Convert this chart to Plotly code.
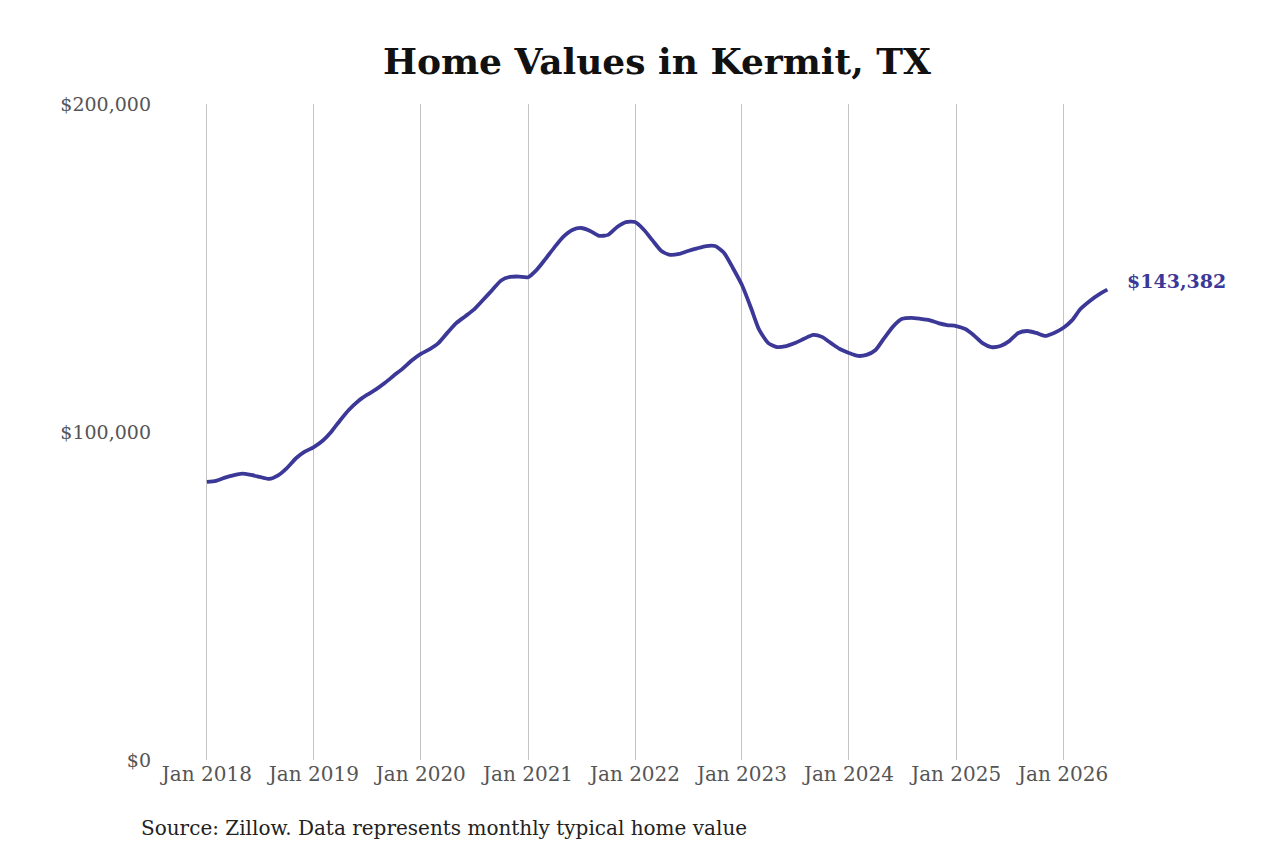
import pandas as pd
import plotly.graph_objects as go

# typical home value, monthly, Jan 2018 .. Jun 2026
home_values = [
    84800, 85100, 86000, 86800, 87300, 86900, 86300, 85700, 86800, 89000, 92000, 94000,
    95400, 97400, 100000, 103600, 106800, 109400, 111300, 113000, 115000, 117200, 119400, 121800,
    123800, 125300, 127100, 130300, 133200, 135300, 137400, 140300, 143300, 146200, 147300, 147400,
    147200, 149600, 152700, 156300, 159500, 161600, 162200, 161300, 159800, 160100, 162500, 164000,
    164000, 161600, 158500, 155200, 154000, 154300, 155200, 156000, 156700, 156700, 154600, 150000,
    144800, 137800, 131100, 127100, 125900, 126200, 127100, 128400, 129600, 129000, 127100, 125300,
    124100, 123200, 123500, 125000, 128700, 132300, 134500, 134800, 134500, 134100, 133200, 132600,
    132300, 131400, 129600, 127100, 125900, 126200, 127700, 130200, 130800, 130200, 129300, 130200,
    131700, 134100, 137500, 139900, 141800, 143382,
]
months = pd.date_range("2018-01-01", periods=len(home_values), freq="MS")

y_ticks = [0, 100000, 200000]
y_labels = ["$0", "$100,000", "$200,000"]

LINE = "#3b3897"
FONT = "DejaVu Serif"

fig = go.Figure()
fig.add_trace(
    go.Scatter(
        x=months,
        y=home_values,
        mode="lines",
        line=dict(color=LINE, width=3.8, shape="spline", smoothing=0.6),
        hoverinfo="x+y",
    )
)

fig.add_annotation(
    x=months[-1],
    y=home_values[-1],
    text=f"<b>${home_values[-1]:,}</b>",
    showarrow=False,
    xanchor="left",
    yanchor="middle",
    xshift=18,
    yshift=9,
    font=dict(family=FONT, size=19, color=LINE),
)

fig.add_annotation(
    text="Source: Zillow. Data represents monthly typical home value",
    xref="paper",
    yref="paper",
    x=-0.022,
    y=-0.104,
    xanchor="left",
    yanchor="middle",
    showarrow=False,
    font=dict(family=FONT, size=20, color="#222222"),
)

# page has an 8px body margin, so margins are trimmed to land on the reference
fig.update_layout(
    width=1280,
    height=853,
    paper_bgcolor="white",
    plot_bgcolor="white",
    showlegend=False,
    margin=dict(l=152, r=178, t=96, b=101),
    font=dict(family=FONT, size=20, color="#555555"),
    title={
        "text": "<b>Home Values in Kermit, TX</b>",
        "x": 0.507,
        "xanchor": "center",
        "y": 0.937,
        "yanchor": "middle",
        "font": dict(family=FONT, size=36, color="#111111"),
    },
)
fig.update_xaxes(
    range=["2017-07-25", "2026-06-10"],
    tick0="2018-01-01",
    dtick="M12",
    tickformat="%b %Y",
    showgrid=True,
    gridcolor="#c4c4c4",
    gridwidth=1,
    showline=False,
    zeroline=False,
    ticks="",
)
fig.update_yaxes(
    range=[0, 200000],
    tickvals=y_ticks,
    ticktext=y_labels,
    tickfont=dict(size=19),
    showgrid=False,
    zeroline=False,
    showline=False,
    ticks="",
    ticklabelstandoff=8,
)

fig.write_html("out.html")
